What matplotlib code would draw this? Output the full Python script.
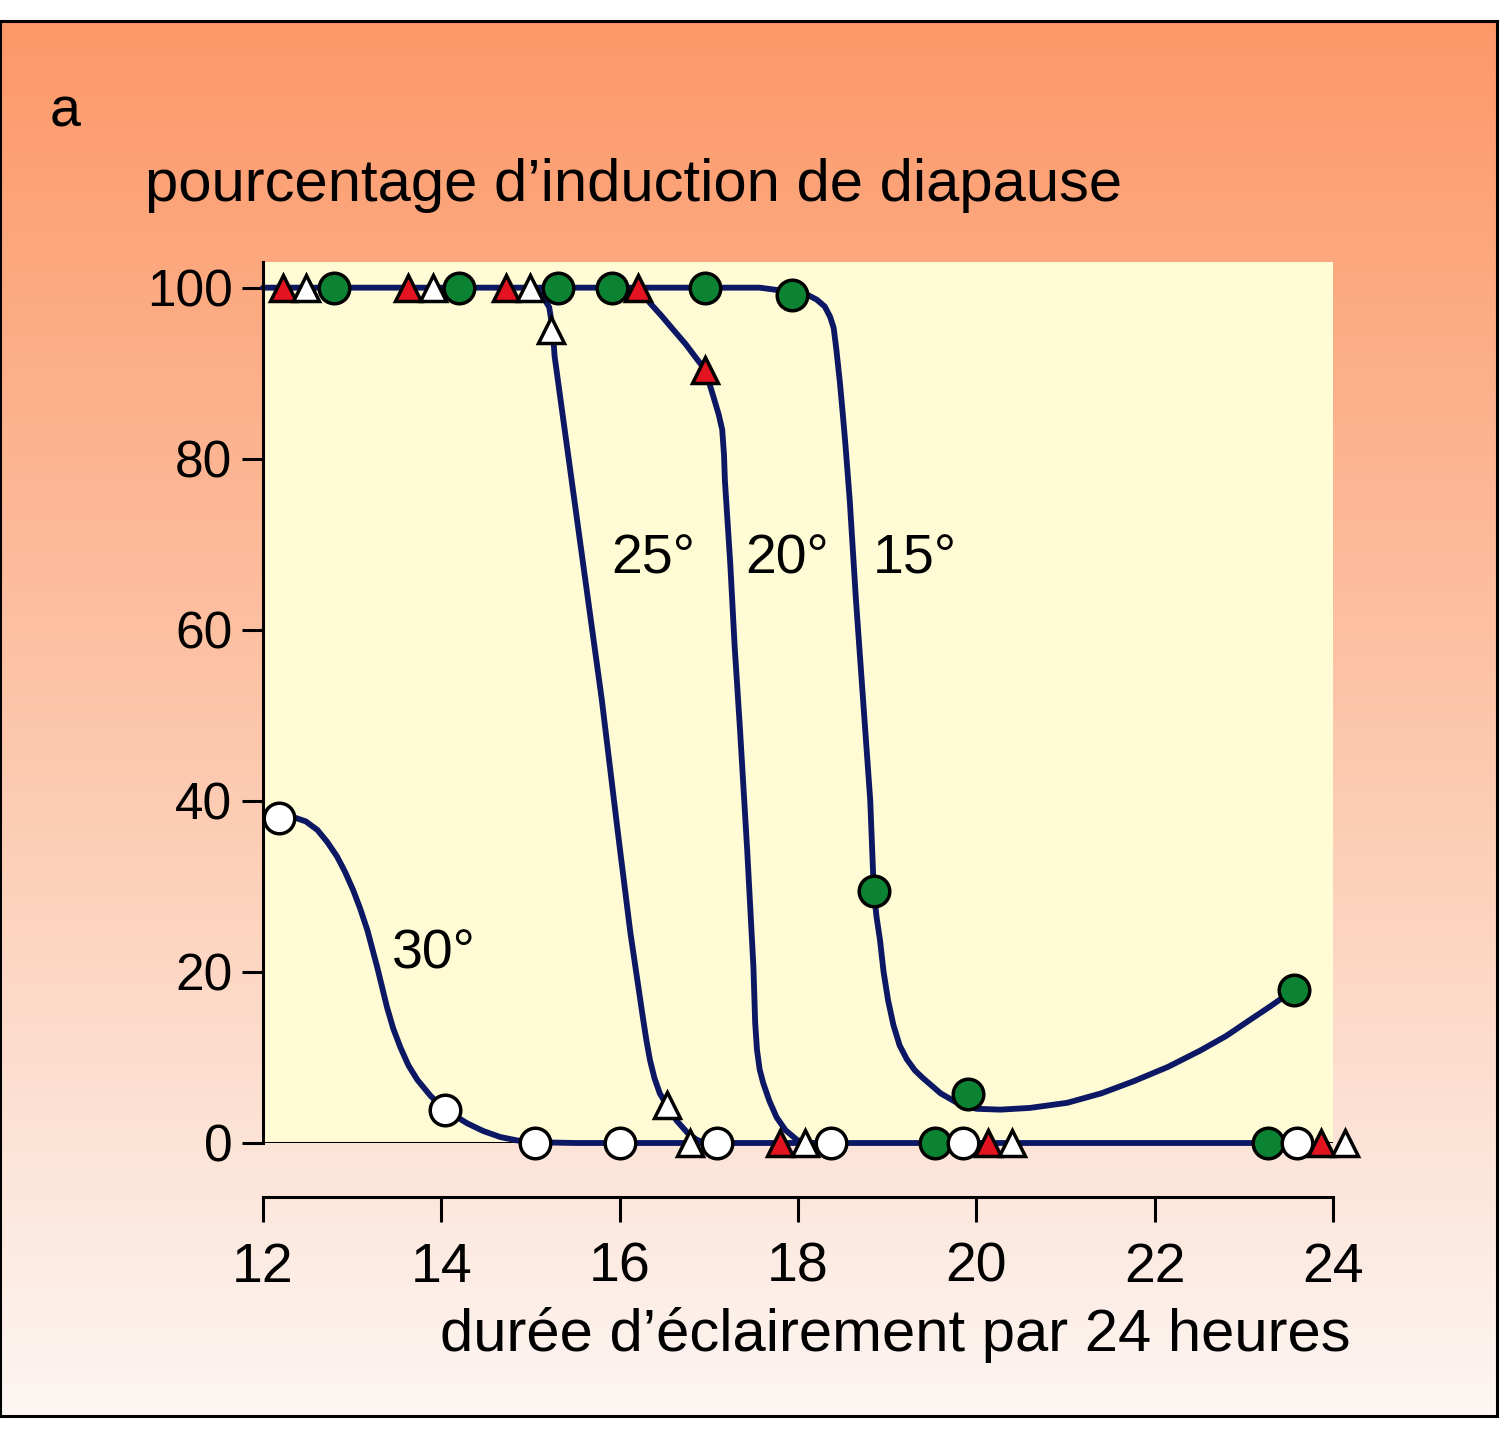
import numpy as np
import matplotlib.pyplot as plt
from matplotlib.colors import LinearSegmentedColormap

plt.rcParams['font.family'] = ['Liberation Sans', 'DejaVu Sans']

# markers: x = hours of light per 24 h, y = % diapause
x30 = [12.18, 14.04, 15.05, 16.0, 17.09, 18.37, 19.85, 23.60]
y30 = [38.0, 3.9, 0, 0, 0, 0, 0, 0]

x25 = [12.48, 13.91, 15.0, 15.23, 16.53, 16.79, 18.08, 20.40, 24.13]
y25 = [100, 100, 100, 95.1, 4.4, 0, 0, 0, 0]

x20 = [12.22, 13.63, 14.73, 16.21, 16.96, 17.80, 20.13, 23.87]
y20 = [100, 100, 100, 100, 90.4, 0, 0, 0]

x15 = [12.80, 14.20, 15.31, 15.91, 16.96, 17.93, 18.85, 19.54, 19.91, 23.27, 23.56]
y15 = [100, 100, 100, 100, 100, 99.1, 29.5, 0, 5.7, 0, 17.9]

# hand-drawn curves
cx30 = [12.17, 12.34, 12.48, 12.61, 12.72, 12.83, 12.92, 13.01, 13.09, 13.17, 13.28,
        13.39, 13.46, 13.54, 13.63, 13.73, 13.88, 14.04, 14.29, 14.47, 14.66, 14.85,
        15.03, 15.5, 23.27]
cy30 = [38.0, 38.1, 37.6, 36.6, 35.2, 33.5, 31.7, 29.6, 27.4, 24.9, 20.6,
        15.9, 13.4, 11.2, 9.1, 7.4, 5.5, 3.9, 2.3, 1.4, 0.7, 0.3,
        0.1, 0, 0]

cx25 = [14.99, 15.06, 15.11, 15.16, 15.21, 15.25, 15.27, 15.80, 15.98, 16.12, 16.26,
        16.30, 16.34, 16.39, 16.45, 16.53, 16.64, 16.76, 16.86, 16.96]
cy25 = [100, 99.7, 99.3, 98.6, 97.7, 95.1, 92.0, 51.8, 36.3, 24.6, 14.7,
        12.0, 9.7, 7.6, 5.8, 4.4, 2.6, 1.2, 0.4, 0]

cx20 = [16.21, 16.34, 16.47, 16.60, 16.74, 16.87, 16.96, 17.05, 17.11, 17.15, 17.17,
        17.18, 17.24, 17.29, 17.35, 17.43, 17.50, 17.52, 17.54, 17.57, 17.61, 17.68,
        17.76, 17.86, 17.99, 18.10]
cy20 = [100, 98.2, 96.7, 95.1, 93.4, 91.6, 90.4, 87.3, 85.2, 83.4, 80.5,
        77.5, 67.8, 58.0, 48.3, 34.3, 20.6, 14.0, 10.9, 8.6, 7.0, 4.9,
        3.0, 1.5, 0.35, 0]

cx15 = [12.0, 17.57, 17.93, 18.10, 18.21, 18.30, 18.36, 18.40, 18.43, 18.47, 18.50,
        18.53, 18.58, 18.65, 18.73, 18.81, 18.85, 18.88, 18.92, 18.96, 19.01, 19.07,
        19.14, 19.22, 19.31, 19.40, 19.60, 19.80, 20.00, 20.27, 20.60, 21.02, 21.40,
        21.76, 22.15, 22.51, 22.80, 23.07, 23.30, 23.56]
cy15 = [100, 100, 99.5, 99.2, 98.6, 97.8, 96.6, 95.3, 92.8, 88.9, 85.5,
        81.9, 75.2, 63.5, 51.8, 40.1, 29.5, 26.5, 23.7, 20.0, 16.7, 13.8,
        11.4, 9.8, 8.5, 7.6, 5.8, 4.6, 4.0, 3.9, 4.1, 4.7, 5.8,
        7.2, 8.9, 10.8, 12.5, 14.4, 16.0, 17.9]

labels = ['30°', '25°', '20°', '15°']
label_x = [13.44, 15.91, 17.41, 18.84]
label_y = [22.0, 68.2, 68.2, 68.2]

yticks = [0, 20, 40, 60, 80, 100]
xticks = [12, 14, 16, 18, 20, 22, 24]

navy = '#0c1864'
red = '#e3141f'
green = '#0b8332'

fig = plt.figure(figsize=(15, 14.32), dpi=100)

# framed gradient background
bg = fig.add_axes([0.0, 0.0112, 0.998, 0.9741])
grad = LinearSegmentedColormap.from_list('bg', ['#fdf6f3', '#fcc6aa', '#fd9868'])
bg.imshow(np.linspace(0, 1, 256).reshape(-1, 1), cmap=grad, aspect='auto',
          origin='lower', extent=[0, 1, 0, 1])
bg.set_xticks([])
bg.set_yticks([])
for s in bg.spines.values():
    s.set_linewidth(2.2)
    s.set_color('black')

ax = fig.add_axes([0.17533, 0.20182, 0.71333, 0.61522])
ax.set_facecolor('#fefbd5')
ax.set_xlim(12, 24)
ax.set_ylim(0, 103)

ax.axhline(0, color='black', lw=2.2, zorder=1)

for cx, cy in [(cx30, cy30), (cx25, cy25), (cx20, cy20), (cx15, cy15)]:
    ax.plot(cx, cy, color=navy, lw=4.2, solid_capstyle='round',
            solid_joinstyle='round', clip_on=False, zorder=2)

ax.plot(x15, y15, 'o', ms=22, mfc=green, mec='black', mew=2.5, ls='none',
        clip_on=False, zorder=3)
ax.plot(x30, y30, 'o', ms=22, mfc='white', mec='black', mew=2.5, ls='none',
        clip_on=False, zorder=4)
ax.plot(x20, y20, '^', ms=19, mfc=red, mec='black', mew=2.5, ls='none',
        clip_on=False, zorder=5)
ax.plot(x25, y25, '^', ms=19, mfc='white', mec='black', mew=2.5, ls='none',
        clip_on=False, zorder=6)

for t, lx, ly in zip(labels, label_x, label_y):
    ax.text(lx, ly, t, fontsize=40, ha='left', va='center', zorder=7)

for side in ['top', 'right']:
    ax.spines[side].set_visible(False)
ax.spines['left'].set_linewidth(2.2)
ax.spines['bottom'].set_linewidth(2.2)
ax.spines['bottom'].set_position(('outward', 39))
ax.spines['bottom'].set_bounds(12, 24)

ax.set_yticks(yticks)
ax.set_xticks(xticks)
ax.tick_params(axis='y', direction='out', length=15, width=2.2, pad=7, labelsize=37)
ax.tick_params(axis='x', direction='out', length=18, width=2.2, pad=14, labelsize=40)

fig.text(0.0333, 0.9211, 'a', fontsize=40, ha='left', va='center')
fig.text(0.0967, 0.8708, 'pourcentage d’induction de diapause', fontsize=43,
         ha='left', va='center')
fig.text(0.9, 0.0677, 'durée d’éclairement par 24 heures', fontsize=43,
         ha='right', va='center')

fig.savefig('out.png', dpi=100)
